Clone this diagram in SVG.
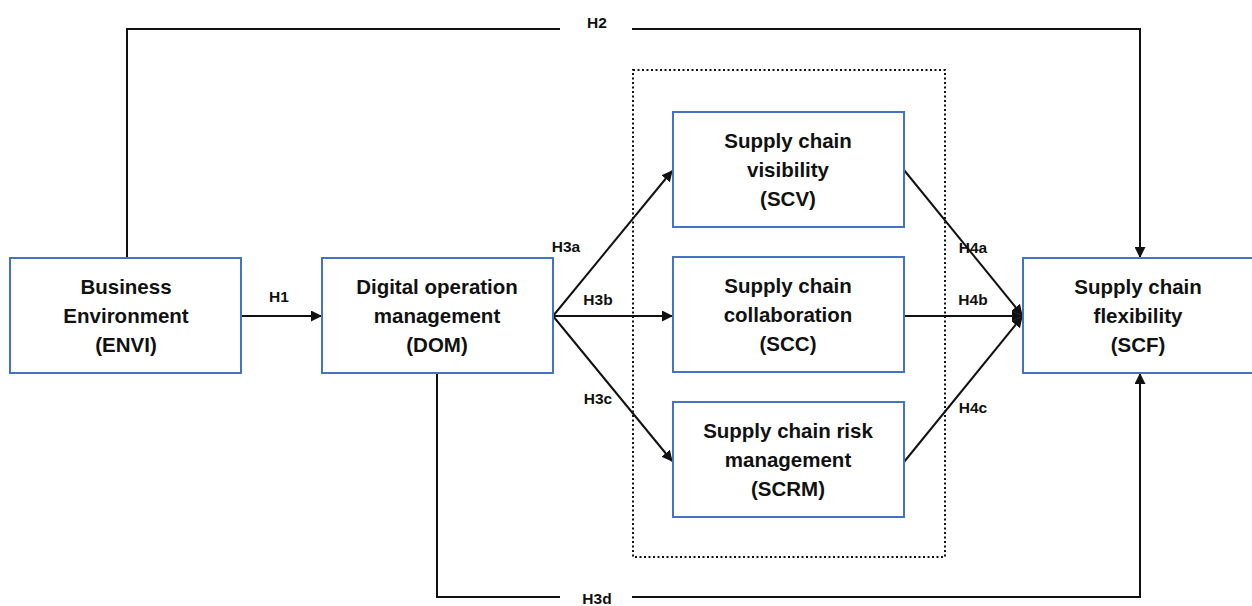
<svg xmlns="http://www.w3.org/2000/svg" width="1252" height="606" viewBox="0 0 1252 606">
<style>
.box{fill:#fff;stroke:#4472C4;stroke-width:2}
.t{font-family:"Liberation Sans",Arial,sans-serif;font-weight:bold;font-size:20.5px;fill:#111;text-anchor:middle}
.l{font-family:"Liberation Sans",Arial,sans-serif;font-weight:bold;font-size:15.5px;fill:#111;text-anchor:middle}
.c{fill:none;stroke:#111;stroke-width:2}
</style>
<defs>
<marker id="ah" markerWidth="11" markerHeight="11" refX="10" refY="5.5" orient="auto" markerUnits="userSpaceOnUse" viewBox="0 0 11 11">
<path d="M0,0 L11,5.5 L0,11 z" fill="#111"/>
</marker>
</defs>
<rect width="1252" height="606" fill="#fff"/>
<rect x="633" y="70" width="312" height="487" fill="none" stroke="#111" stroke-width="2" stroke-dasharray="2 2.5"/>
<g id="connectors">
<polyline class="c" points="127,258 127,29 560,29"/>
<polyline class="c" points="632,29 1140,29 1140,257" marker-end="url(#ah)"/>
<polyline class="c" points="437,373 437,597 560,597"/>
<polyline class="c" points="632,597 1140,597 1140,374" marker-end="url(#ah)"/>
<line class="c" x1="241" y1="316" x2="321" y2="316" marker-end="url(#ah)"/>
<line class="c" x1="553" y1="316" x2="672" y2="171" marker-end="url(#ah)"/>
<line class="c" x1="553" y1="316" x2="672" y2="316" marker-end="url(#ah)"/>
<line class="c" x1="553" y1="316" x2="672" y2="461" marker-end="url(#ah)"/>
<line class="c" x1="904" y1="170" x2="1022" y2="315" marker-end="url(#ah)"/>
<line class="c" x1="904" y1="316" x2="1022" y2="316" marker-end="url(#ah)"/>
<line class="c" x1="904" y1="462" x2="1022" y2="317" marker-end="url(#ah)"/>
<text class="l" x="597" y="28">H2</text>
<text class="l" x="597" y="604">H3d</text>
<text class="l" x="279" y="302">H1</text>
<text class="l" x="566" y="252">H3a</text>
<text class="l" x="598" y="305">H3b</text>
<text class="l" x="598" y="404">H3c</text>
<text class="l" x="973" y="253">H4a</text>
<text class="l" x="973" y="305">H4b</text>
<text class="l" x="973" y="413">H4c</text>
</g>
<g id="envi">
<rect class="box" x="10" y="258" width="231" height="115"/>
<text class="t" x="126" y="294">Business</text>
<text class="t" x="126" y="323">Environment</text>
<text class="t" x="126" y="352">(ENVI)</text>
</g>
<g id="dom">
<rect class="box" x="322" y="258" width="231" height="115"/>
<text class="t" x="437" y="294">Digital operation</text>
<text class="t" x="437" y="323">management</text>
<text class="t" x="437" y="352">(DOM)</text>
</g>
<g id="scv">
<rect class="box" x="673" y="112" width="231" height="115"/>
<text class="t" x="788" y="148">Supply chain</text>
<text class="t" x="788" y="177">visibility</text>
<text class="t" x="788" y="206">(SCV)</text>
</g>
<g id="scc">
<rect class="box" x="673" y="257" width="231" height="115"/>
<text class="t" x="788" y="293">Supply chain</text>
<text class="t" x="788" y="322">collaboration</text>
<text class="t" x="788" y="351">(SCC)</text>
</g>
<g id="scrm">
<rect class="box" x="673" y="402" width="231" height="115"/>
<text class="t" x="788" y="438">Supply chain risk</text>
<text class="t" x="788" y="467">management</text>
<text class="t" x="788" y="496">(SCRM)</text>
</g>
<g id="scf">
<rect class="box" x="1023" y="258" width="240" height="115"/>
<text class="t" x="1138" y="294">Supply chain</text>
<text class="t" x="1138" y="323">flexibility</text>
<text class="t" x="1138" y="352">(SCF)</text>
</g>
</svg>
